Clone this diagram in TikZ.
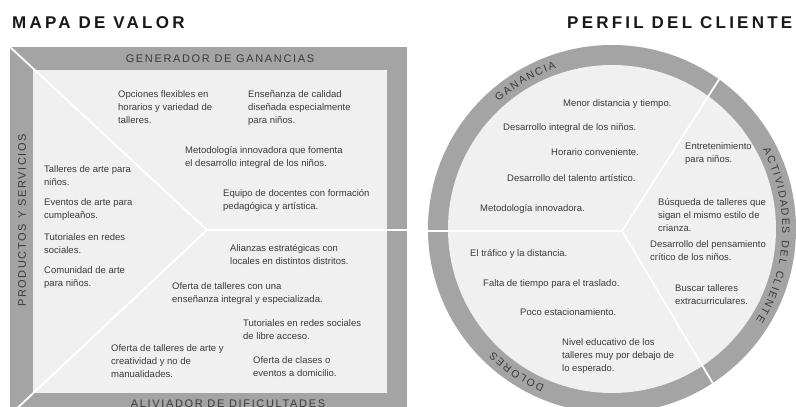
\documentclass[tikz,border=0pt]{standalone}
\usepackage{fontspec}
\setmainfont{Liberation Sans}
\newfontfamily\titlefont[LetterSpace=19]{Liberation Sans}
\newfontfamily\bandfont[LetterSpace=15]{Liberation Sans}

\definecolor{band}{HTML}{A4A4A4}
\definecolor{panel}{HTML}{F0F0F0}
\definecolor{ink}{HTML}{3A3A3A}

\tikzset{
  txt/.style={anchor=north west,inner sep=0pt,align=left,text=ink,font=\fontsize{9.5}{13}\selectfont},
  bandlbl/.style={inner sep=0pt,text=ink,font=\bandfont\fontsize{11}{13}\selectfont},
  title/.style={anchor=west,inner sep=0pt,text=black!90,font=\titlefont\bfseries\fontsize{17}{20}\selectfont},
  ringch/.style={inner sep=0pt,text=ink,font=\fontsize{10.5}{12}\selectfont},
  divider/.style={white,line width=1.8pt}
}

\begin{document}
\begin{tikzpicture}[x=1pt,y=1pt]

\clip (0,0) rectangle (796,407);
\fill[white] (0,0) rectangle (796,407);

% mapa de valor
\node[title] (mv) at (12,384) {MAPA DE VALOR};

\coordinate (O1) at (10,360);
\coordinate (O2) at (407,-8);
\coordinate (T) at (207,177);

\fill[band] (O1) rectangle (O2);
\fill[panel] (33,337) rectangle (387,14);
\draw[divider] (O1) -- (T) -- (10,-8);
\draw[divider] (T) -- (407,177); % tip of the chevron

\node[bandlbl] (gg) at (220,348) {GENERADOR DE GANANCIAS};
\node[bandlbl] (ad) at (228,3) {ALIVIADOR DE DIFICULTADES};
\node[bandlbl,rotate=90] (ps) at (22,186.5) {PRODUCTOS Y SERVICIOS};

\node[txt] (g1) at (118,317) {Opciones flexibles en\\horarios y variedad de\\talleres.};
\node[txt] (g2) at (248,317) {Enseñanza de calidad\\diseñada especialmente\\para niños.};
\node[txt] (g3) at (185,261) {Metodología innovadora que fomenta\\el desarrollo integral de los niños.};
\node[txt] (g4) at (223,218) {Equipo de docentes con formación\\pedagógica y artística.};

\node[txt] (s1) at (44,242) {Talleres de arte para\\niños.};
\node[txt] (s2) at (44,209) {Eventos de arte para\\cumpleaños.};
\node[txt] (s3) at (44,174) {Tutoriales en redes\\sociales.};
\node[txt] (s4) at (44,141) {Comunidad de arte\\para niños.};

\node[txt] (a1) at (230,163) {Alianzas estratégicas con\\locales en distintos distritos.};
\node[txt] (a2) at (172,125) {Oferta de talleres con una\\enseñanza integral y especializada.};
\node[txt] (a3) at (243,88) {Tutoriales en redes sociales\\de libre acceso.};
\node[txt] (a4) at (111,63) {Oferta de talleres de arte y\\creatividad y no de\\manualidades.};
\node[txt] (a5) at (253,51) {Oferta de clases o\\eventos a domicilio.};

% perfil del cliente
\node[title] (pc) at (567,384) {PERFIL DEL CLIENTE};

\begin{scope}[shift={(612,178)}]
  \fill[band] (0,0) circle (184);
  \fill[panel] (0,0) circle (164);
  \coordinate (J) at (10,-2);
  \begin{scope}
    \clip (0,0) circle (184);
    \draw[divider] (-192,-2) -- (J) -- (122.7,174);
    \draw[divider] (J) -- (117,-181.4);
  \end{scope}
  \foreach \ch/\a [count=\i] in {G/130.3,A/127.1,N/124.1,A/121,N/118,C/114.9,I/112.5,A/110.3}
    \node[ringch,rotate=\a-90] (rg\i) at (\a:174) {\ch};
  \foreach \ch/\a [count=\i] in {A/26.6,C/23.6,T/20.6,I/18.5,V/16.2,I/14,D/11.6,A/8.6,D/5.6,E/2.5,S/-0.4,
      D/-5,E/-8.1,L/-10.8,C/-15.2,L/-18,I/-20.1,E/-22.3,N/-25.4,T/-28.3,E/-31.2}
    \node[ringch,rotate=\a-90] (ra\i) at (\a:174) {\ch};
  \foreach \ch/\a [count=\i] in {D/245.4,O/242.2,L/239.2,O/236.3,R/233,E/230,S/227.1}
    \node[ringch,rotate=\a-90] (rd\i) at (\a:174) {\ch};
\end{scope}

\node[txt] (c1) at (563,308) {Menor distancia y tiempo.};
\node[txt] (c2) at (503,284) {Desarrollo integral de los niños.};
\node[txt] (c3) at (551,259) {Horario conveniente.};
\node[txt] (c4) at (507,233) {Desarrollo del talento artístico.};
\node[txt] (c5) at (480,203) {Metodología innovadora.};

\node[txt] (r1) at (685,265) {Entretenimiento\\para niños.};
\node[txt] (r2) at (658,209) {Búsqueda de talleres que\\sigan el mismo estilo de\\crianza.};
\node[txt] (r3) at (650,167) {Desarrollo del pensamiento\\crítico de los niños.};
\node[txt] (r4) at (675,123) {Buscar talleres\\extracurriculares.};

\node[txt] (d1) at (470,158) {El tráfico y la distancia.};
\node[txt] (d2) at (483,128) {Falta de tiempo para el traslado.};
\node[txt] (d3) at (520,99) {Poco estacionamiento.};
\node[txt] (d4) at (562,69) {Nivel educativo de los\\talleres muy por debajo de\\lo esperado.};

\end{tikzpicture}
\end{document}
